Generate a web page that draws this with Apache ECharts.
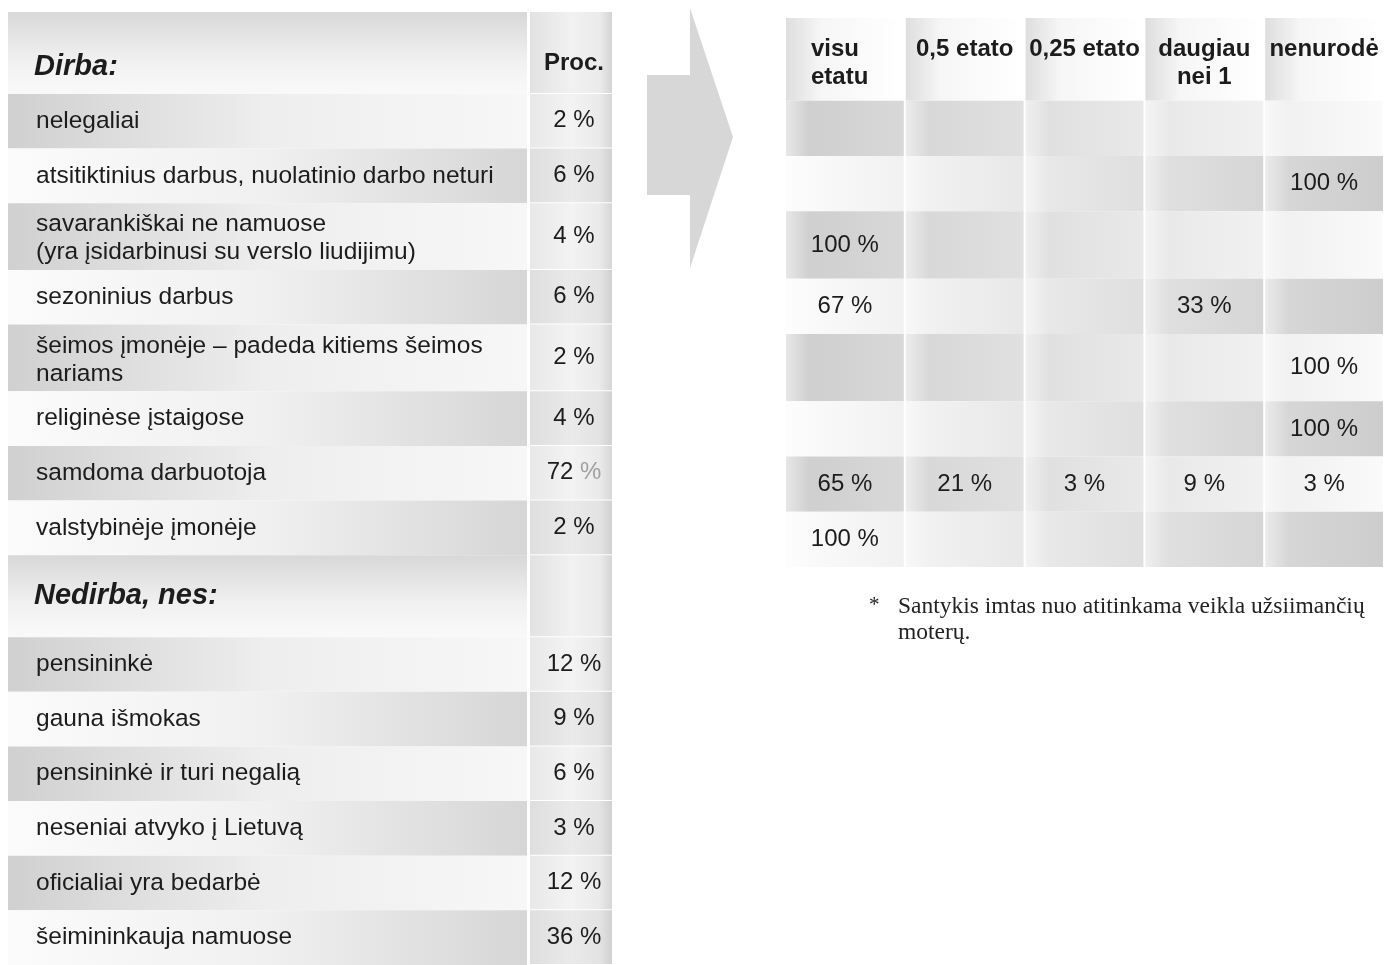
<!DOCTYPE html>
<html lang="lt">
<head>
<meta charset="utf-8">
<title>Dirba / Nedirba</title>
<script src="https://cdn.jsdelivr.net/npm/echarts@6/dist/echarts.min.js"></script>
<style>
  html, body { margin: 0; padding: 0; background: #fff; }
  #chart { width: 1384px; height: 965px; }
</style>
</head>
<body>
<div id="chart"></div>
<script>
// --- data ---
const sectionTitles = ['Dirba:', 'Nedirba, nes:'];
const percentHeader = 'Proc.';

const dirbaLabels = [
  'nelegaliai',
  'atsitiktinius darbus, nuolatinio darbo neturi',
  'savarankiškai ne namuose\n(yra įsidarbinusi su verslo liudijimu)',
  'sezoninius darbus',
  'šeimos įmonėje – padeda kitiems šeimos\nnariams',
  'religinėse įstaigose',
  'samdoma darbuotoja',
  'valstybinėje įmonėje'
];
const dirbaPercent = [2, 6, 4, 6, 2, 4, 72, 2];

const nedirbaLabels = [
  'pensininkė',
  'gauna išmokas',
  'pensininkė ir turi negalią',
  'neseniai atvyko į Lietuvą',
  'oficialiai yra bedarbė',
  'šeimininkauja namuose'
];
const nedirbaPercent = [12, 9, 6, 3, 12, 36];

// breakdown of the working rows by workload (same order as dirbaLabels)
const etatoHeaders = ['visu\netatu', '0,5 etato', '0,25 etato', 'daugiau\nnei 1', 'nenurodė'];
const visuEtatu = [null, null, 100, 67, null, null, 65, 100];
const pusesEtato = [null, null, null, null, null, null, 21, null];
const ketvirtisEtato = [null, null, null, null, null, null, 3, null];
const daugiauNeiVieno = [null, null, null, 33, null, null, 9, null];
const nenurode = [null, 100, null, null, 100, 100, 3, null];
const etatoValues = [visuEtatu, pusesEtato, ketvirtisEtato, daugiauNeiVieno, nenurode];

const footnoteMark = '*';
const footnoteText = 'Santykis imtas nuo atitinkama veikla užsiimančių\nmoterų.';

// --- layout helpers ---
const LG = echarts.graphic.LinearGradient;
const FONT = "'Liberation Sans', Arial, sans-serif";
const SERIF = "'Liberation Serif', 'Times New Roman', serif";
const TEXT = '#1c1c1c';
const fadedPercentRow = 'samdoma darbuotoja'; // the % sign is printed lighter in the source

const rowWeight = (kind, label) => kind === 'header' ? 1.5 : (label.indexOf('\n') >= 0 ? 1.22 : 1);

const leftRows = [];
const addSection = (title, procTitle, labels, values) => {
  leftRows.push({ kind: 'header', label: title, proc: procTitle, first: leftRows.length === 0 });
  labels.forEach((label, i) => leftRows.push({ kind: 'row', label, value: values[i], alt: i % 2 }));
};
addSection(sectionTitles[0], percentHeader, dirbaLabels, dirbaPercent);
addSection(sectionTitles[1], '', nedirbaLabels, nedirbaPercent);

let acc = 0;
leftRows.forEach(r => { r.y0 = acc; acc += rowWeight(r.kind, r.label); r.y1 = acc; });
const leftTotal = acc;

const rightRows = [{ kind: 'header', label: '' }]
  .concat(dirbaLabels.map((label, i) => ({ kind: 'row', label, alt: i % 2, idx: i })));
acc = 0;
rightRows.forEach(r => { r.y0 = acc; acc += rowWeight(r.kind, r.label); r.y1 = acc; });
const rightTotal = acc;

const rightCells = [];
rightRows.forEach(r => etatoHeaders.forEach((h, c) => {
  const v = r.kind === 'header' ? null : etatoValues[c][r.idx];
  rightCells.push({ row: r, col: c, text: r.kind === 'header' ? h : (v == null ? '' : v + ' %'), value: [c, r.y0, r.y1] });
}));

const stops = (list) => list.map(([offset, color]) => ({ offset, color }));

// --- renderers ---
function renderLabelCell(params, api) {
  const row = leftRows[params.dataIndex];
  const tl = api.coord([api.value(0), api.value(1)]);
  const br = api.coord([api.value(2), api.value(3)]);
  const w = br[0] - tl[0], h = br[1] - tl[1];
  let fill;
  if (row.kind === 'header') {
    fill = new LG(0, 0, 0, 1, stops([[0, '#d8d8d8'], [0.6, '#f1f1f1'], [1, '#f9f9f9']]));
  } else if (row.alt === 0) {
    fill = new LG(0, 0, 1, 0, stops([[0, '#d0d0d0'], [0.5, '#eeeeee'], [1, '#f7f7f7']]));
  } else {
    fill = new LG(0, 0, 1, 0, stops([[0, '#fbfbfb'], [0.5, '#f0f0f0'], [1, '#d6d6d6']]));
  }
  const header = row.kind === 'header';
  const twoLine = row.label.indexOf('\n') >= 0;
  return {
    type: 'group',
    children: [
      { type: 'rect', shape: { x: tl[0], y: tl[1], width: w, height: h }, style: { fill } },
      {
        type: 'text',
        x: tl[0] + (header ? 26 : 28),
        y: tl[1] + h / 2 + (row.first ? 14 : 0) + (twoLine ? 2 : 0),
        style: {
          text: row.label,
          font: header ? `italic bold 29px ${FONT}` : `24.5px ${FONT}`,
          fill: TEXT,
          align: 'left',
          verticalAlign: 'middle',
          lineHeight: 28
        }
      }
    ]
  };
}

function renderProcCell(params, api) {
  const row = leftRows[params.dataIndex];
  const tl = api.coord([api.value(0), api.value(1)]);
  const br = api.coord([api.value(2), api.value(3)]);
  const w = br[0] - tl[0], h = br[1] - tl[1] - 1;
  let fill;
  if (row.kind === 'header') {
    fill = new LG(0, 0, 1, 0, stops([[0, '#e2e2e2'], [0.5, '#f1f1f1'], [0.85, '#ebebeb'], [1, '#d4d4d4']]));
  } else if (row.alt === 0) {
    fill = new LG(0, 0, 1, 0, stops([[0, '#e8e8e8'], [0.5, '#f3f3f3'], [0.85, '#eaeaea'], [1, '#d6d6d6']]));
  } else {
    fill = new LG(0, 0, 1, 0, stops([[0, '#dedede'], [0.5, '#eaeaea'], [0.85, '#e3e3e3'], [1, '#d0d0d0']]));
  }
  let text = '', rich;
  if (row.kind === 'header') {
    text = row.proc;
  } else if (row.label === fadedPercentRow) {
    text = `{n|${row.value} }{p|%}`;
    rich = { n: { font: `24px ${FONT}`, fill: TEXT }, p: { font: `24px ${FONT}`, fill: '#a0a0a0' } };
  } else {
    text = row.value + ' %';
  }
  return {
    type: 'group',
    children: [
      { type: 'rect', shape: { x: tl[0], y: tl[1], width: w, height: h }, style: { fill } },
      {
        type: 'text',
        x: tl[0] + w / 2 + 3,
        y: tl[1] + h / 2 + (row.first ? 11 : 0),
        style: {
          text,
          rich,
          font: row.kind === 'header' ? `bold 24px ${FONT}` : `24px ${FONT}`,
          fill: TEXT,
          align: 'center',
          verticalAlign: 'middle'
        }
      }
    ]
  };
}

function renderEtatoCell(params, api) {
  const cell = rightCells[params.dataIndex];
  const top = api.coord([api.value(0), api.value(1)]);
  const bottom = api.coord([api.value(0), api.value(2)]);
  const band = api.size([1, 0])[0];
  const x = top[0] - band / 2 + 1, w = band - 2;
  const y = top[1], h = bottom[1] - top[1];
  let fill;
  if (cell.row.kind === 'header') {
    fill = new LG(0, 0, 1, 0, stops([[0, '#dedede'], [0.3, '#f6f6f6'], [1, '#ffffff']]));
  } else {
    const rowStart = api.coord([0, 0])[0] - band / 2;
    const rowEnd = api.coord([etatoHeaders.length - 1, 0])[0] + band / 2;
    const ends = cell.row.alt === 0 ? ['#cfcfcf', '#fafafa'] : ['#fafafa', '#cdcdcd'];
    const c0 = echarts.color.lerp((x - rowStart) / (rowEnd - rowStart), ends);
    const c1 = echarts.color.lerp((x + w - rowStart) / (rowEnd - rowStart), ends);
    fill = new LG(0, 0, 1, 0, stops([[0, echarts.color.lerp(0.5, [c0, '#ffffff'])], [0.2, c0], [1, c1]]));
  }
  const header = cell.row.kind === 'header';
  const textEl = header
    ? {
        type: 'text',
        x: cell.col === 0 ? x + 25 : top[0],
        y: y + 17,
        style: {
          text: cell.text, font: `bold 24px ${FONT}`, fill: TEXT,
          align: cell.col === 0 ? 'left' : 'center', verticalAlign: 'top', lineHeight: 28
        }
      }
    : {
        type: 'text',
        x: top[0],
        y: y + h / 2,
        style: { text: cell.text, font: `24px ${FONT}`, fill: TEXT, align: 'center', verticalAlign: 'middle' }
      };
  return {
    type: 'group',
    children: [
      { type: 'rect', shape: { x, y, width: w, height: h }, style: { fill } },
      textEl
    ]
  };
}

// --- chart ---
const chart = echarts.init(document.getElementById('chart'), null, { renderer: 'canvas' });

const hiddenValue = (min, max, inverse) => ({ type: 'value', min, max, inverse: !!inverse, show: false });

chart.setOption({
  animation: false,
  backgroundColor: '#ffffff',
  title: [
    { text: footnoteMark, left: 864, top: 590, textStyle: { fontFamily: SERIF, fontSize: 21, fontWeight: 'normal', color: '#222' } },
    { text: footnoteText, left: 893, top: 589, textStyle: { fontFamily: SERIF, fontSize: 23.5, fontWeight: 'normal', color: '#222', lineHeight: 26 } }
  ],
  grid: [
    { left: 8, top: 12, width: 519, height: 953 },
    { left: 530, top: 12, width: 82, height: 953 },
    { left: 785, top: 18, width: 605, height: 549 }
  ],
  xAxis: [
    Object.assign(hiddenValue(0, 1), { gridIndex: 0 }),
    Object.assign(hiddenValue(0, 1), { gridIndex: 1 }),
    { type: 'category', gridIndex: 2, data: etatoHeaders, show: false }
  ],
  yAxis: [
    Object.assign(hiddenValue(0, leftTotal, true), { gridIndex: 0 }),
    Object.assign(hiddenValue(0, leftTotal, true), { gridIndex: 1 }),
    Object.assign(hiddenValue(0, rightTotal, true), { gridIndex: 2 })
  ],
  graphic: [
    {
      type: 'polygon',
      shape: { points: [[647, 75], [690, 75], [690, 8], [733, 137], [690, 268], [690, 195], [647, 195]] },
      style: { fill: '#d7d7d7' },
      silent: true
    }
  ],
  series: [
    {
      type: 'custom', name: 'labels', xAxisIndex: 0, yAxisIndex: 0,
      encode: { x: [0, 2], y: [1, 3] },
      data: leftRows.map(r => [0, r.y0, 1, r.y1]),
      renderItem: renderLabelCell, silent: true
    },
    {
      type: 'custom', name: 'proc', xAxisIndex: 1, yAxisIndex: 1,
      encode: { x: [0, 2], y: [1, 3] },
      data: leftRows.map(r => [0, r.y0, 1, r.y1]),
      renderItem: renderProcCell, silent: true
    },
    {
      type: 'custom', name: 'etatai', xAxisIndex: 2, yAxisIndex: 2,
      encode: { x: 0, y: [1, 2] },
      data: rightCells.map(c => c.value),
      renderItem: renderEtatoCell, silent: true
    }
  ]
});

window.addEventListener('resize', () => chart.resize());
</script>
</body>
</html>
